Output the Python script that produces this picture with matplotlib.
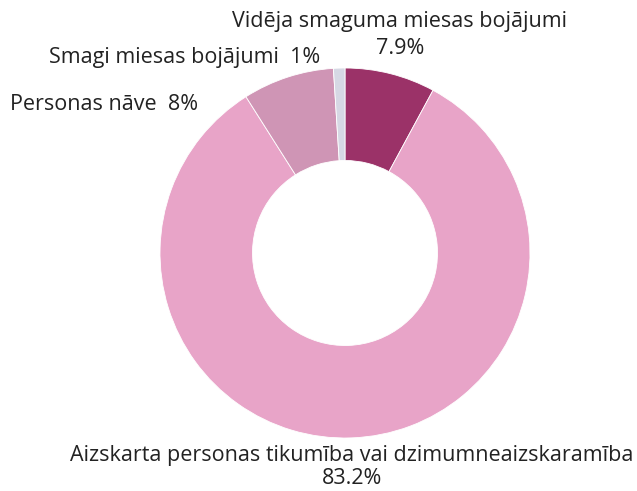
import matplotlib.pyplot as plt

# slices clockwise from 12 o'clock
labels = ["Vidēja smaguma miesas bojājumi",
          "Aizskarta personas tikumība vai dzimumneaizskaramība",
          "Personas nāve",
          "Smagi miesas bojājumi"]
values = [7.9, 83.2, 8, 1]
pct_text = ["7.9%", "83.2%", "8%", "1%"]
colors = ["#9b3268", "#e8a4c8", "#cf95b5", "#d6d8e4"]

plt.rcParams["font.family"] = ["Open Sans", "DejaVu Sans"]

W, H = 637, 491
fig = plt.figure(figsize=(W / 100, H / 100), dpi=100)
ax = fig.add_axes([0, 0, 1, 1])

cx, cy, r = 345, H - 253, 185
ax.pie(values, colors=colors, startangle=90, counterclock=False,
       center=(cx, cy), radius=r, frame=True,
       wedgeprops=dict(width=r * 0.5, edgecolor="white", linewidth=0.6))
ax.set_xlim(0, W)
ax.set_ylim(0, H)
ax.set_aspect("equal")
ax.axis("off")

fs = 15.5
tc = "#222222"
ax.text(400, H - 21, labels[0], ha="center", va="center", fontsize=fs, color=tc)
ax.text(400, H - 48, pct_text[0], ha="center", va="center", fontsize=fs, color=tc)
ax.text(320, H - 57, labels[3] + "  " + pct_text[3], ha="right", va="center", fontsize=fs, color=tc)
ax.text(10, H - 104, labels[2] + "  " + pct_text[2], ha="left", va="center", fontsize=fs, color=tc)
ax.text(352, H - 456, labels[1], ha="center", va="center", fontsize=fs, color=tc)
ax.text(352, H - 479, pct_text[1], ha="center", va="center", fontsize=fs, color=tc)

fig.savefig("out.png", dpi=100)
